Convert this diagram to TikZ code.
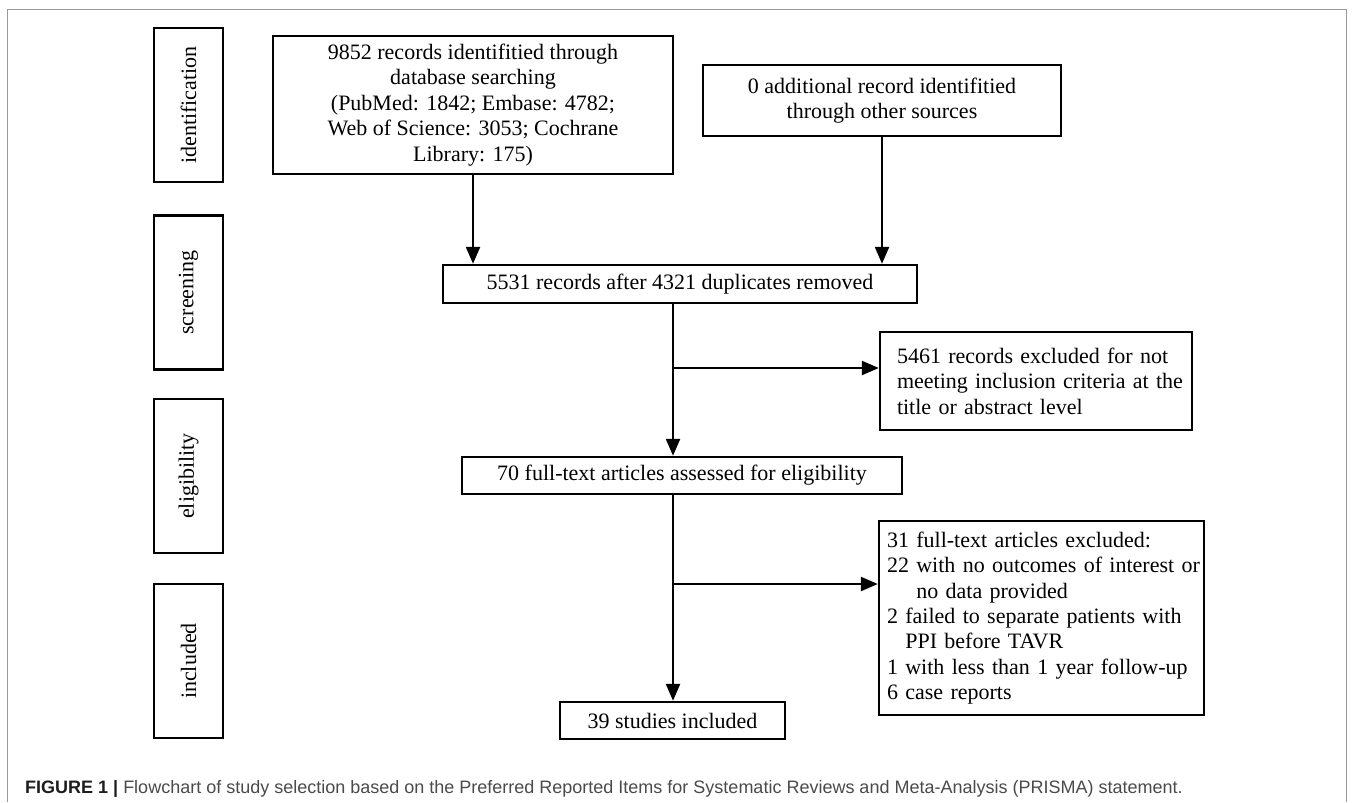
\documentclass[tikz,border=0pt]{standalone}
\usepackage{fontspec}
\setmainfont{Liberation Serif}
\newfontfamily\capfont{Liberation Sans}
\usetikzlibrary{arrows.meta}
\definecolor{framegray}{HTML}{9A9A9A}
\definecolor{captext}{HTML}{4A4A4A}
\definecolor{capbold}{HTML}{1E1E1E}
\tikzset{
  box/.style={draw=black, line width=2.4bp, inner sep=0pt, align=center,
    font={\fontsize{22bp}{25.4bp}\selectfont}},
  lbox/.style={box, align=left},
  lab/.style={box, rotate=90, minimum width=154bp, minimum height=69bp},
  arr/.style={-{Triangle[length=17bp,width=14bp]}, line width=2.4bp},
}
\begin{document}
\begin{tikzpicture}[x=1bp, y=-1bp]
\useasboundingbox (0,0) rectangle (1357,802);
% outer frame
\draw[framegray, line width=1bp] (7.5,802) -- (7.5,9.5) -- (1346,9.5) -- (1346,802);

% stage labels
\node[lab] (lid)  at (188.5,105)   {identification};
\node[lab] (lscr) at (188.5,292.5) {screening};
\node[lab] (lel)  at (188.5,476)   {eligibility};
\node[lab] (linc) at (188.5,661)   {included};

% main flow
\node[box, minimum width=400bp, minimum height=138bp] (A) at (473,105)
  {9852 records identifitied through\\ database searching\\ (PubMed: 1842; Embase: 4782;\\ Web of Science: 3053; Cochrane\\ Library: 175)};
\node[box, minimum width=358bp, minimum height=71bp] (B) at (882,100.5)
  {0 additional record identifitied\\ through other sources};
\node[box, minimum width=474bp, minimum height=38bp] (C) at (680,284)
  {5531 records after 4321 duplicates removed};
\node[lbox, text width=312bp, minimum height=98bp] (X1) at (1036,381)
  {\mbox{\hspace*{17bp}5461 records excluded for not}\\
   \mbox{\hspace*{17bp}meeting inclusion criteria at the}\\
   \mbox{\hspace*{17bp}title or abstract level}};
\node[box, minimum width=440bp, minimum height=37bp] (D) at (682,475.5)
  {70 full-text articles assessed for eligibility};
\node[lbox, text width=325bp, minimum height=194bp] (X2) at (1041.5,618)
  {\mbox{\hspace*{8bp}31 full-text articles excluded:}\\
   \mbox{\hspace*{8bp}22 with no outcomes of interest or}\\
   \mbox{\hspace*{8bp}\phantom{22\ }no data provided}\\
   \mbox{\hspace*{8bp}2 failed to separate patients with}\\
   \mbox{\hspace*{8bp}\phantom{2\ }PPI before TAVR}\\
   \mbox{\hspace*{8bp}1 with less than 1 year follow-up}\\
   \mbox{\hspace*{8bp}6 case reports}};
\node[box, minimum width=225bp, minimum height=37bp] (E) at (672.5,720.5)
  {39 studies included};

\coordinate (b1) at (673,368);
\coordinate (b2) at (673,584);

\draw[arr] (A.south) -- (A.south |- C.north);
\draw[arr] (B.south) -- (B.south |- C.north);
\draw[arr] (C.south -| b1) -- (D.north -| b1);
\draw[arr] (b1) -- (b1 -| X1.west);
\draw[arr] (D.south -| b2) -- (E.north -| b2);
\draw[arr] (b2) -- (b2 -| X2.west);

% caption
\node[anchor=base west, inner sep=0pt, font={\capfont\fontsize{18bp}{21bp}\selectfont}] (cap) at (25,793)
  {{\color{capbold}\bfseries FIGURE 1 |} \textcolor{captext}{Flowchart of study selection based on the Preferred Reported Items for Systematic Reviews and Meta-Analysis (PRISMA) statement.}};
\end{tikzpicture}
\end{document}
